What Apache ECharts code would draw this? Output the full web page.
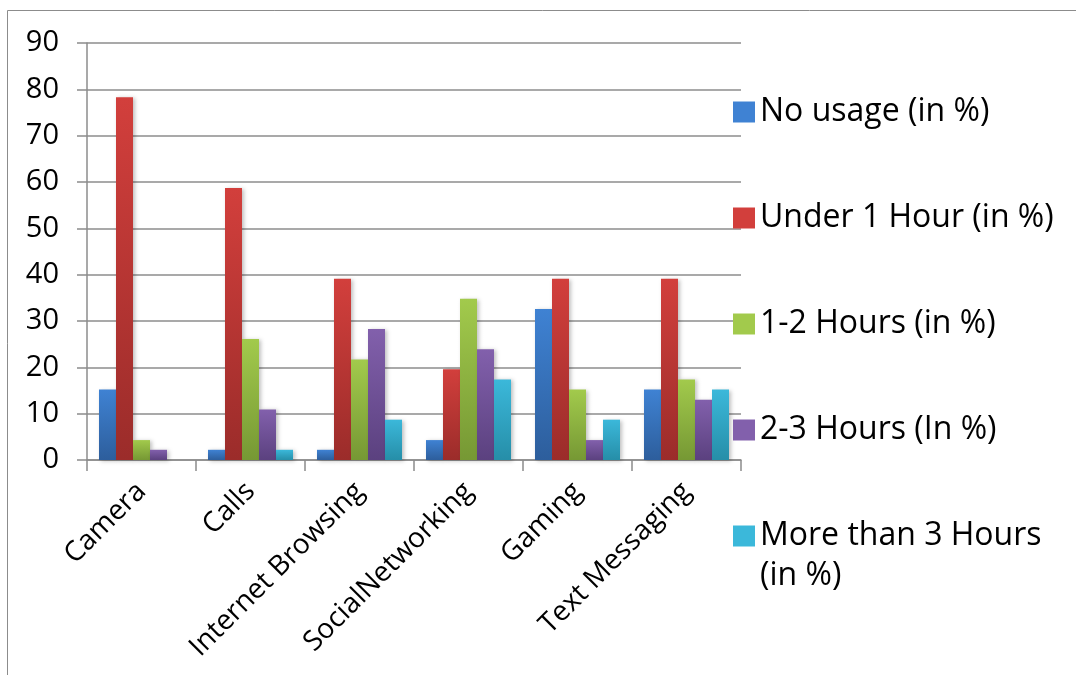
<!DOCTYPE html>
<html>
<head>
<meta charset="utf-8">
<script src="https://cdn.jsdelivr.net/npm/echarts@6/dist/echarts.min.js"></script>
<style>
  html, body { margin: 0; padding: 0; background: #fff; }
  #chart { width: 1076px; height: 675px; }
</style>
</head>
<body>
<div id="chart"></div>
<script>
// categories (x axis)
const categories = ['Camera', 'Calls', 'Internet Browsing', 'SocialNetworking', 'Gaming', 'Text Messaging']

// series values, in %
const noUsage = [15.2, 2.2, 2.2, 4.3, 32.6, 15.2]
const under1Hour = [78.3, 58.7, 39.1, 19.6, 39.1, 39.1]
const oneToTwo = [4.3, 26.1, 21.7, 34.8, 15.2, 17.4]
const twoToThree = [2.2, 10.9, 28.3, 23.9, 4.3, 13.0]
const moreThan3 = [0, 2.2, 8.7, 17.4, 8.7, 15.2]

const seriesNames = ['No usage (in %)', 'Under 1 Hour (in %)', '1-2 Hours (in %)', '2-3 Hours (In %)', 'More than 3 Hours (in %)']
const seriesData = [noUsage, under1Hour, oneToTwo, twoToThree, moreThan3]

// [top colour, bottom colour] for each bar series
const barColors = [
  ['#3f82d3', '#2d5e9c'],
  ['#d23f3c', '#9b2c2a'],
  ['#a2ca4c', '#769834'],
  ['#8260ac', '#5b417f'],
  ['#3bb8da', '#268ea8']
]

const font = '"Open Sans", "Liberation Sans", sans-serif'

function gradient(c) {
  return new echarts.graphic.LinearGradient(0, 0, 0, 1, [
    { offset: 0, color: c[0] },
    { offset: 1, color: c[1] }
  ])
}

const chart = echarts.init(document.getElementById('chart'))

const option = {
  animation: false,
  backgroundColor: '#fff',
  graphic: [
    {
      type: 'rect',
      shape: { x: 7.5, y: 10.5, width: 1200, height: 800 },
      style: { fill: 'none', stroke: '#8c8c8c', lineWidth: 1 },
      silent: true
    },
    {
      // second line of the last legend entry
      type: 'text',
      left: 760,
      top: 560,
      style: { text: '(in %)', fontFamily: font, fontSize: 32, fill: '#000' },
      silent: true
    }
  ],
  grid: {
    left: 87,
    top: 43,
    right: 335,
    bottom: 215
  },
  legend: {
    orient: 'vertical',
    left: 728,
    top: 86,
    itemWidth: 22,
    itemHeight: 21,
    itemGap: 64,
    icon: 'rect',
    formatter: name => name === 'More than 3 Hours (in %)' ? 'More than 3 Hours' : name,
    textStyle: {
      fontFamily: font,
      fontSize: 32,
      color: '#000',
      lineHeight: 42
    },
    data: seriesNames.map((n, i) => ({ name: n, itemStyle: { color: barColors[i][0] } }))
  },
  xAxis: {
    type: 'category',
    data: categories,
    axisLine: { lineStyle: { color: '#8c8c8c', width: 1.5 } },
    axisTick: { show: true, length: 11, lineStyle: { color: '#8c8c8c', width: 1.5 } },
    axisLabel: {
      rotate: 45,
      margin: 27,
      interval: 0,
      fontFamily: font,
      fontSize: 28,
      color: '#000'
    }
  },
  yAxis: {
    type: 'value',
    min: 0,
    max: 90,
    interval: 10,
    axisLine: { show: true, lineStyle: { color: '#8c8c8c', width: 1.5 } },
    axisTick: { show: true, length: 10, lineStyle: { color: '#8c8c8c', width: 1.5 } },
    splitLine: { lineStyle: { color: '#8c8c8c', width: 1.5 } },
    axisLabel: {
      margin: 28,
      fontFamily: font,
      fontSize: 29,
      color: '#000'
    }
  },
  series: seriesNames.map((name, i) => ({
    name: name,
    type: 'bar',
    data: seriesData[i],
    barGap: '0%',
    barCategoryGap: '22%',
    itemStyle: {
      color: gradient(barColors[i]),
      shadowColor: 'rgba(0,0,0,0.25)',
      shadowBlur: 4,
      shadowOffsetX: 2,
      shadowOffsetY: 1
    }
  }))
}

chart.setOption(option)
</script>
</body>
</html>
